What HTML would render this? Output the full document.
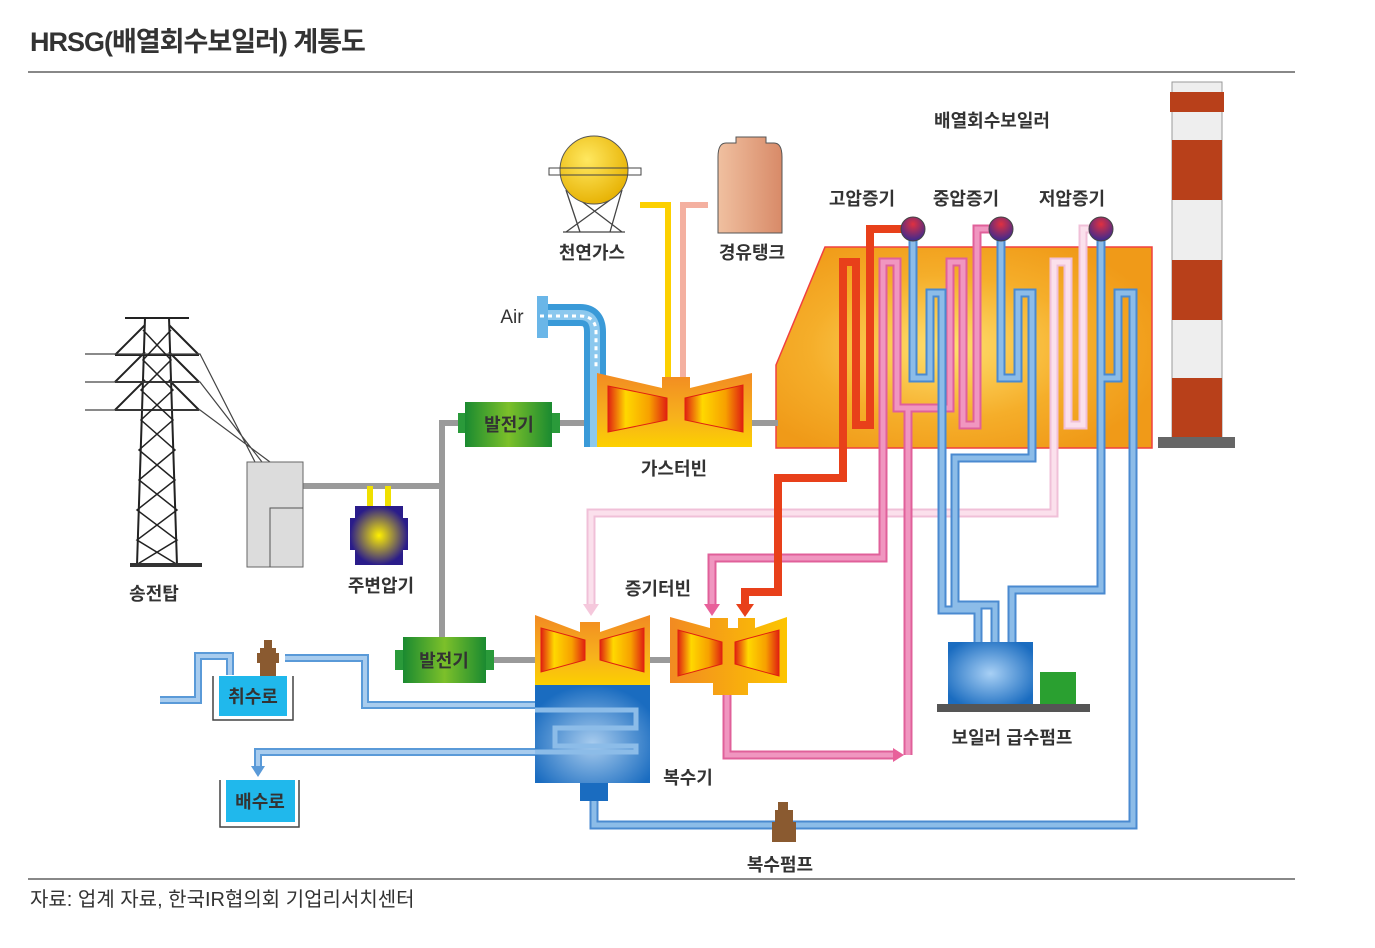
<!DOCTYPE html>
<html><head><meta charset="utf-8"><style>
body{margin:0;background:#fff;width:1375px;height:948px;overflow:hidden}
svg{display:block}
text{font-family:"Liberation Sans","Noto Sans CJK KR",sans-serif;font-weight:bold;fill:#333}
</style></head><body>
<svg width="1375" height="948" viewBox="0 0 1375 948">
<defs>
<radialGradient id="hr" cx="0.45" cy="0.5" r="0.6"><stop offset="0" stop-color="#ffe070"/><stop offset="0.6" stop-color="#f5ae2a"/><stop offset="1" stop-color="#f09a18"/></radialGradient>
<linearGradient id="gt" x1="0" y1="0" x2="0" y2="1"><stop offset="0" stop-color="#f28a22"/><stop offset="0.6" stop-color="#f7b21c"/><stop offset="1" stop-color="#fcd000"/></linearGradient>
<linearGradient id="st" x1="0" y1="0" x2="1" y2="0"><stop offset="0" stop-color="#f28a22"/><stop offset="1" stop-color="#fcc500"/></linearGradient>
<linearGradient id="bl" x1="0" y1="0" x2="1" y2="0"><stop offset="0" stop-color="#e02010"/><stop offset="0.3" stop-color="#ffd800"/><stop offset="0.7" stop-color="#f7a000"/><stop offset="1" stop-color="#e02010"/></linearGradient>
<radialGradient id="cd" cx="0.5" cy="0.6" r="0.6"><stop offset="0" stop-color="#a8ccee"/><stop offset="1" stop-color="#1a6cc0"/></radialGradient>
<radialGradient id="ball" cx="0.5" cy="0.3" r="0.7"><stop offset="0" stop-color="#e03040"/><stop offset="1" stop-color="#3a2a90"/></radialGradient>
<radialGradient id="tr" cx="0.5" cy="0.5" r="0.5"><stop offset="0" stop-color="#fff000"/><stop offset="1" stop-color="#2a1c8a"/></radialGradient>
<radialGradient id="gas" cx="0.4" cy="0.35" r="0.7"><stop offset="0" stop-color="#ffe860"/><stop offset="1" stop-color="#e6b000"/></radialGradient>
<linearGradient id="oil" x1="0" y1="0" x2="1" y2="0"><stop offset="0" stop-color="#f0c0a0"/><stop offset="1" stop-color="#d88a68"/></linearGradient>
<linearGradient id="gen" x1="0" y1="0" x2="1" y2="0"><stop offset="0" stop-color="#1a8a30"/><stop offset="0.5" stop-color="#7cc02a"/><stop offset="1" stop-color="#1a8a30"/></linearGradient>
<radialGradient id="pump" cx="0.5" cy="0.5" r="0.6"><stop offset="0" stop-color="#a8d0f5"/><stop offset="1" stop-color="#1a6cc0"/></radialGradient>
<marker id="ab" markerWidth="4" markerHeight="4" refX="2" refY="2" orient="auto" markerUnits="strokeWidth"><path d="M0,0L4,2L0,4z" fill="#7fb2e0"/></marker>
</defs>

<text x="30" y="51" font-size="27" fill="#333" style="letter-spacing:-1px">HRSG(배열회수보일러) 계통도</text>
<rect x="28" y="71" width="1267" height="2" fill="#888"/>

<!-- stack -->
<rect x="1172" y="82" width="50" height="356" fill="#eee" stroke="#999"/>
<rect x="1170" y="92" width="54" height="20" fill="#b8401a"/>
<rect x="1172" y="140" width="50" height="60" fill="#b8401a"/>
<rect x="1172" y="260" width="50" height="60" fill="#b8401a"/>
<rect x="1172" y="378" width="50" height="60" fill="#b8401a"/>
<rect x="1158" y="437" width="77" height="11" fill="#666"/>

<!-- HRSG -->
<polygon points="776,365 825,247 1152,247 1152,448 776,448" fill="url(#hr)" stroke="#f04040" stroke-width="1.5"/>
<text x="992" y="127" font-size="18" text-anchor="middle">배열회수보일러</text>
<text x="862" y="205" font-size="18" text-anchor="middle">고압증기</text>
<text x="966" y="205" font-size="18" text-anchor="middle">중압증기</text>
<text x="1072" y="205" font-size="18" text-anchor="middle">저압증기</text>

<!-- gray shafts -->
<g stroke="#9a9a9a" stroke-width="6" fill="none">
<path d="M560,423H600M752,423H778"/>
<path d="M442,660V423H470"/>
<path d="M303,486H442"/>
<path d="M486,660H535M650,660H670"/>
</g>

<!-- pipes -->
<g fill="none" stroke-linejoin="miter">
<!-- light pink LP -->
<path d="M1101,229H1083V425H1068V262H1054V513H591V605" stroke="#f0c0d8" stroke-width="9"/>
<path d="M1101,229H1083V425H1068V262H1054V513H591V605" stroke="#fbe0ec" stroke-width="5"/>
<!-- pink IP -->
<path d="M1001,229H977V425H963V262H950V408H897V262H883V558H712V605M908,408V755M727,690V755H895" stroke="#e0609a" stroke-width="9"/>
<path d="M1001,229H977V425H963V262H950V408H897V262H883V558H712V605M908,408V755M727,690V755H895" stroke="#f096c0" stroke-width="5"/>
<!-- blue -->
<path d="M913,229V378H930V293H942V610H978V642M1001,229V378H1018V293H1032V458H955V605H995V642M1101,229V590H1012V642M1101,378H1118V293H1133V825H594V800" stroke="#4a8ad0" stroke-width="9"/>
<path d="M913,229V378H930V293H942V610H978V642M1001,229V378H1018V293H1032V458H955V605H995V642M1101,229V590H1012V642M1101,378H1118V293H1133V825H594V800" stroke="#8cbce8" stroke-width="5"/>
<!-- red HP -->
<path d="M913,229H870V425H856V262H843V478H778V592H745V605" stroke="#e8401a" stroke-width="8"/>
<!-- cooling water -->
<path d="M160,700H198V656H230V675M285,658H365V705H640V730H555V745H640V752H258V768" stroke="#5a9ad8" stroke-width="8"/>
<path d="M160,700H198V656H230V675M285,658H365V705H640V730H555V745H640V752H258V768" stroke="#a8ccee" stroke-width="4"/>
<!-- fuel pipes -->
<path d="M640,205H668V378" stroke="#fcd000" stroke-width="6"/>
<path d="M708,205H683V378" stroke="#f4b0a0" stroke-width="6"/>
</g>
<!-- arrowheads -->
<polygon points="583,604 599,604 591,616" fill="#f5c8dc"/>
<polygon points="704,604 720,604 712,616" fill="#e8609a"/>
<polygon points="736,604 754,604 745,617" fill="#e8401a"/>
<polygon points="893,748 893,762 904,755" fill="#e8609a"/>
<polygon points="251,766 265,766 258,777" fill="#5a9ad8"/>

<!-- balls -->
<circle cx="913" cy="229" r="12" fill="url(#ball)" stroke="#444"/>
<circle cx="1001" cy="229" r="12" fill="url(#ball)" stroke="#444"/>
<circle cx="1101" cy="229" r="12" fill="url(#ball)" stroke="#444"/>

<!-- gas tank -->
<g stroke="#444" stroke-width="1.3" fill="none">
<path d="M566,190L580,232M622,190L610,232M566,232L610,200M622,232L580,200M563,232H625"/>
</g>
<circle cx="594" cy="170" r="34" fill="url(#gas)" stroke="#555"/>
<rect x="549" y="168" width="92" height="7" fill="none" stroke="#444"/>
<text x="592" y="259" font-size="18" text-anchor="middle">천연가스</text>
<path d="M736,137h30v6h8q8,0 8,14v76h-64v-76q0-14,8-14h10z" fill="url(#oil)" stroke="#555"/>
<text x="752" y="259" font-size="18" text-anchor="middle">경유탱크</text>

<!-- air duct -->
<path d="M548,315H580Q595,315 595,332V447" fill="none" stroke="#3a9ad8" stroke-width="22"/>
<path d="M548,315H580Q595,315 595,332V447" fill="none" stroke="#8cc8ee" stroke-width="10"/>
<rect x="537" y="296" width="11" height="42" fill="#6ab6e8"/>
<path d="M540,316H580Q596,316 596,332V370" fill="none" stroke="#fff" stroke-width="3" stroke-dasharray="4,4"/>
<text x="512" y="323" font-size="19" text-anchor="middle" style="font-weight:normal" fill="#333">Air</text>

<!-- gas turbine -->
<path d="M597,373L662,388V377H690V388L752,373V447H597z" fill="url(#gt)"/>
<polygon points="608,386 667,398 667,420 608,432" fill="url(#bl)" stroke="#e02010"/>
<polygon points="685,398 743,385 743,432 685,420" fill="url(#bl)" stroke="#e02010"/>
<text x="674" y="475" font-size="18" text-anchor="middle">가스터빈</text>

<!-- generator 1 -->
<rect x="458" y="413" width="10" height="20" fill="#2a9a3a"/><rect x="550" y="413" width="10" height="20" fill="#2a9a3a"/>
<rect x="465" y="402" width="87" height="45" fill="url(#gen)"/>
<text x="509" y="431" font-size="18" text-anchor="middle" fill="#222">발전기</text>

<!-- tower -->
<g stroke="#222" stroke-width="2" fill="none">
<path d="M145,318L137,565M169,318L177,565M125,318H189"/>
<path d="M115,355H199M115,382H199M115,410H199M145,325L115,355M169,325L199,355M145,352L115,382M169,352L199,382M145,380L115,410M169,380L199,410"/>
<path d="M85,354H200L255,462M85,382H200L262,462M85,410H200L270,462" stroke-width="1.2" stroke="#444"/>
<path d="M143,330L171,360L141,390L173,420L139,450L175,480L137,510L177,540L136,565M171,330L143,360L173,390L141,420L175,450L139,480L177,510L137,540L178,565" stroke-width="1.5"/>
<path d="M130,565H202" stroke-width="4" stroke="#333"/>
</g>
<text x="154" y="600" font-size="18" text-anchor="middle">송전탑</text>
<rect x="247" y="462" width="56" height="105" fill="#dcdcdc" stroke="#666"/>
<path d="M270,567V508H303" fill="none" stroke="#555"/>

<!-- main transformer -->
<rect x="367" y="486" width="6" height="20" fill="#f0e000"/><rect x="385" y="486" width="6" height="20" fill="#f0e000"/>
<path d="M355,506h48v12h5v32h-5v15h-48v-15h-5v-32h5z" fill="url(#tr)"/>
<text x="381" y="592" font-size="18" text-anchor="middle">주변압기</text>

<!-- generator 2 -->
<rect x="395" y="650" width="10" height="20" fill="#2a9a3a"/><rect x="484" y="650" width="10" height="20" fill="#2a9a3a"/>
<rect x="403" y="637" width="83" height="46" fill="url(#gen)"/>
<text x="444" y="667" font-size="18" text-anchor="middle" fill="#222">발전기</text>

<!-- LP turbine + condenser -->
<path d="M535,615L580,632V622H600V632L650,615V685H535z" fill="url(#gt)"/>
<polygon points="541,628 585,640 585,660 541,672" fill="url(#bl)" stroke="#e02010"/>
<polygon points="600,640 644,628 644,672 600,660" fill="url(#bl)" stroke="#e02010"/>
<rect x="535" y="685" width="115" height="98" fill="url(#cd)"/>
<rect x="580" y="783" width="28" height="18" fill="#1a6cc0"/>
<path d="M535,710H636V728H555V746H636V752H535" fill="none" stroke="#8cbce8" stroke-width="5"/>
<text x="688" y="784" font-size="18" text-anchor="middle">복수기</text>

<!-- HP turbine -->
<path d="M670,617L710,628V618H728V628H738V618H755V628L787,617V683H748V695H713V683H670z" fill="url(#st)"/>
<polygon points="678,630 722,642 722,664 678,676" fill="url(#bl)" stroke="#e02010"/>
<polygon points="735,642 779,630 779,676 735,664" fill="url(#bl)" stroke="#e02010"/>
<text x="658" y="595" font-size="18" text-anchor="middle">증기터빈</text>

<!-- feed pump -->
<rect x="948" y="642" width="85" height="63" fill="url(#pump)"/>
<rect x="1040" y="672" width="36" height="33" fill="#2aa030"/>
<rect x="937" y="704" width="153" height="8" fill="#555"/>
<text x="1012" y="744" font-size="18" text-anchor="middle">보일러 급수펌프</text>

<!-- condensate pump -->
<path d="M778,802h10v8h5v12h3v20h-24v-20h3v-12h3z" fill="#8a5a30"/>
<text x="780" y="871" font-size="18" text-anchor="middle">복수펌프</text>

<!-- intake/outfall -->
<path d="M213,676V720H293V676" fill="none" stroke="#444" stroke-width="1.5"/>
<rect x="219" y="676" width="68" height="40" fill="#20b8ec"/>
<text x="253" y="703" font-size="18" text-anchor="middle" fill="#222">취수로</text>
<path d="M264,640h8v8h4v5h3v10h-3v13h-16v-13h-3v-10h3v-5h4z" fill="#8a5a30"/>
<path d="M220,780V827H299V780" fill="none" stroke="#444" stroke-width="1.5"/>
<rect x="226" y="780" width="69" height="42" fill="#20b8ec"/>
<text x="260" y="808" font-size="18" text-anchor="middle" fill="#222">배수로</text>

<rect x="28" y="878" width="1267" height="2" fill="#888"/>
<text x="30" y="906" font-size="20" style="font-weight:normal" fill="#333">자료: 업계 자료, 한국IR협의회 기업리서치센터</text>
</svg>
</body></html>
